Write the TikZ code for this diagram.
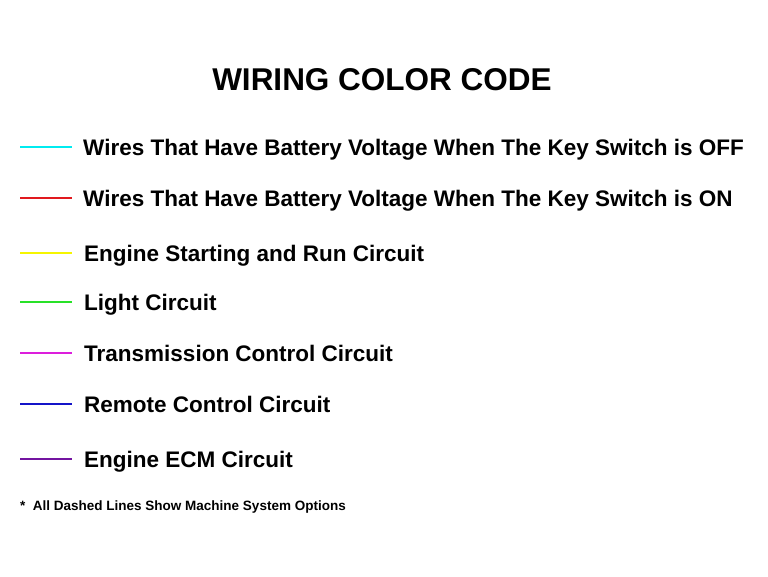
\documentclass[tikz,border=0pt]{standalone}
\usepackage{fontspec}
\setmainfont{Liberation Sans}
\definecolor{wcyan}{RGB}{0,235,240}
\definecolor{wred}{RGB}{225,25,30}
\definecolor{wyellow}{RGB}{245,245,0}
\definecolor{wgreen}{RGB}{40,225,40}
\definecolor{wmagenta}{RGB}{220,30,220}
\definecolor{wblue}{RGB}{20,20,200}
\definecolor{wpurple}{RGB}{115,20,160}
\begin{document}
\begin{tikzpicture}[x=1pt,y=-1pt,
  wire/.style={line width=2pt},
  label/.style={anchor=base west,inner sep=0pt,font=\bfseries\fontsize{22.5}{26}\selectfont},
  titletext/.style={anchor=base,inner sep=0pt,font=\bfseries\fontsize{31.5}{36}\selectfont},
  note/.style={anchor=base west,inner sep=0pt,font=\bfseries\fontsize{13.5}{16}\selectfont}]
\useasboundingbox[fill=white] (0,0) rectangle (768,576);
\node[titletext] (title) at (382,90.5) {WIRING COLOR CODE};
\foreach \n/\y/\c/\t/\lx in {
  a/147/wcyan/{Wires That Have Battery Voltage When The Key Switch is OFF}/83,
  b/198/wred/{Wires That Have Battery Voltage When The Key Switch is ON}/83,
  c/253/wyellow/{Engine Starting and Run Circuit}/84,
  d/302/wgreen/{Light Circuit}/84,
  e/353/wmagenta/{Transmission Control Circuit}/84,
  f/404/wblue/{Remote Control Circuit}/84,
  g/459/wpurple/{Engine ECM Circuit}/84}{
  \coordinate (s\n) at (20,\y);
  \coordinate (e\n) at (72,\y);
  \draw[wire,draw=\c] (s\n) -- (e\n);
  \node[label] (t\n) at (\lx,\y+8) {\t};
}
\node[note] (note) at (20,510) {*\ \ All Dashed Lines Show Machine System Options};
\end{tikzpicture}
\end{document}
